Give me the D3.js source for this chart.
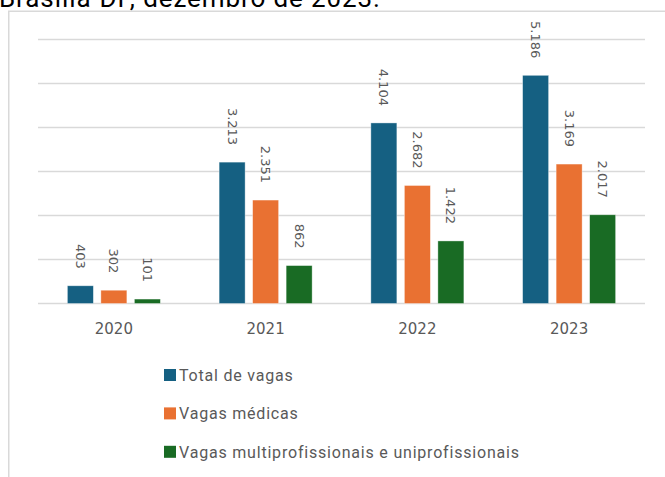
<!DOCTYPE html>
<html>
<head>
<meta charset="utf-8">
<script src="https://cdn.jsdelivr.net/npm/d3@7"></script>
<style>
  html, body { margin: 0; padding: 0; background: #fff; overflow: hidden; }
</style>
</head>
<body>
<svg id="chart" width="665" height="477"></svg>
<script>
const years = ['2020', '2021', '2022', '2023'];
const seriesNames = ['Total de vagas', 'Vagas médicas', 'Vagas multiprofissionais e uniprofissionais'];
const totalVagas = [403, 3213, 4104, 5186];
const vagasMedicas = [302, 2351, 2682, 3169];
const vagasMulti = [101, 862, 1422, 2017];
const yTicks = [0, 1000, 2000, 3000, 4000, 5000, 6000];
const titleText = 'Brasília-DF, dezembro de 2023.';

const colors = ['#156082', '#E97132', '#196B24'];
const values = [totalVagas, vagasMedicas, vagasMulti];

const svg = d3.select('#chart');

/**
 * SIZES
 */
const plotLeft = 38;
const plotRight = 645;
const plotTop = 39.5;
const plotBottom = 303.5;

/**
 * TITLE (cut off at top) + FRAME
 */
svg.append('text')
  .attr('x', -1)
  .attr('y', 7)
  .attr('font-family', 'Roboto, sans-serif')
  .attr('font-size', 26)
  .attr('letter-spacing', 0.9)
  .attr('fill', '#000')
  .text(titleText);

svg.append('path')
  .attr('d', 'M8.75,477 V11.25 H665')
  .attr('fill', 'none')
  .attr('stroke', '#d9d9d9')
  .attr('stroke-width', 1.5);

/**
 * SCALES
 */
const x0 = d3.scaleBand()
  .domain(years)
  .range([plotLeft, plotRight])
  .paddingInner(0.387)
  .paddingOuter(0.387 / 2);

const x1 = d3.scaleBand()
  .domain(d3.range(seriesNames.length))
  .range([0, x0.bandwidth()])
  .paddingInner(0.224);

const y = d3.scaleLinear()
  .domain([0, 6000])
  .range([plotBottom, plotTop]);

/**
 * GRID
 */
svg.append('g')
  .selectAll('line')
  .data(yTicks)
  .join('line')
  .attr('x1', plotLeft)
  .attr('x2', plotRight)
  .attr('y1', (d) => y(d))
  .attr('y2', (d) => y(d))
  .attr('stroke', '#d9d9d9')
  .attr('stroke-width', 1.5);

/**
 * BARS + LABELS
 */
const rows = [];
years.forEach((yr, i) => {
  values.forEach((arr, s) => rows.push({ year: yr, s: s, v: arr[i] }));
});

svg.append('g')
  .selectAll('rect')
  .data(rows)
  .join('rect')
  .attr('x', (d) => x0(d.year) + x1(d.s))
  .attr('y', (d) => y(d.v))
  .attr('width', x1.bandwidth())
  .attr('height', (d) => y(0) - y(d.v))
  .attr('fill', (d) => colors[d.s])
  .attr('stroke', '#fff')
  .attr('stroke-opacity', 0.5)
  .attr('stroke-width', 0.75);

const fmt = d3.formatLocale({ decimal: ',', thousands: '.', grouping: [3], currency: ['R$', ''] }).format(',d');

svg.append('g')
  .selectAll('text')
  .data(rows)
  .join('text')
  .attr('transform', (d) => {
    const cx = x0(d.year) + x1(d.s) + x1.bandwidth() / 2;
    const cy = y(d.v) - 17;
    return `translate(${cx},${cy}) rotate(90)`;
  })
  .attr('text-anchor', 'end')
  .attr('dy', '0.35em')
  .attr('font-family', 'DejaVu Sans, sans-serif')
  .attr('font-size', 13)
  .attr('fill', '#595959')
  .text((d) => fmt(d.v));

/**
 * X AXIS
 */
const xAxis = d3.axisBottom(x0).tickSize(0).tickPadding(0);
const gX = svg.append('g')
  .attr('transform', `translate(0,${plotBottom})`)
  .call(xAxis);
gX.select('.domain').remove();
gX.selectAll('text')
  .attr('y', 30)
  .attr('dy', 0)
  .attr('font-family', 'DejaVu Sans, sans-serif')
  .attr('font-size', 15)
  .attr('fill', '#595959');

/**
 * LEGEND
 */
const legend = svg.append('g')
  .selectAll('g')
  .data(seriesNames)
  .join('g')
  .attr('transform', (d, i) => `translate(164,${381 + i * 38.4})`);

legend.append('rect')
  .attr('x', 0)
  .attr('y', -12)
  .attr('width', 12)
  .attr('height', 12)
  .attr('fill', (d, i) => colors[i]);

legend.append('text')
  .attr('x', 15)
  .attr('y', 0)
  .attr('font-family', 'Roboto, sans-serif')
  .attr('font-size', 16)
  .attr('letter-spacing', 0.8)
  .attr('fill', '#595959')
  .text((d) => d);
</script>
</body>
</html>
